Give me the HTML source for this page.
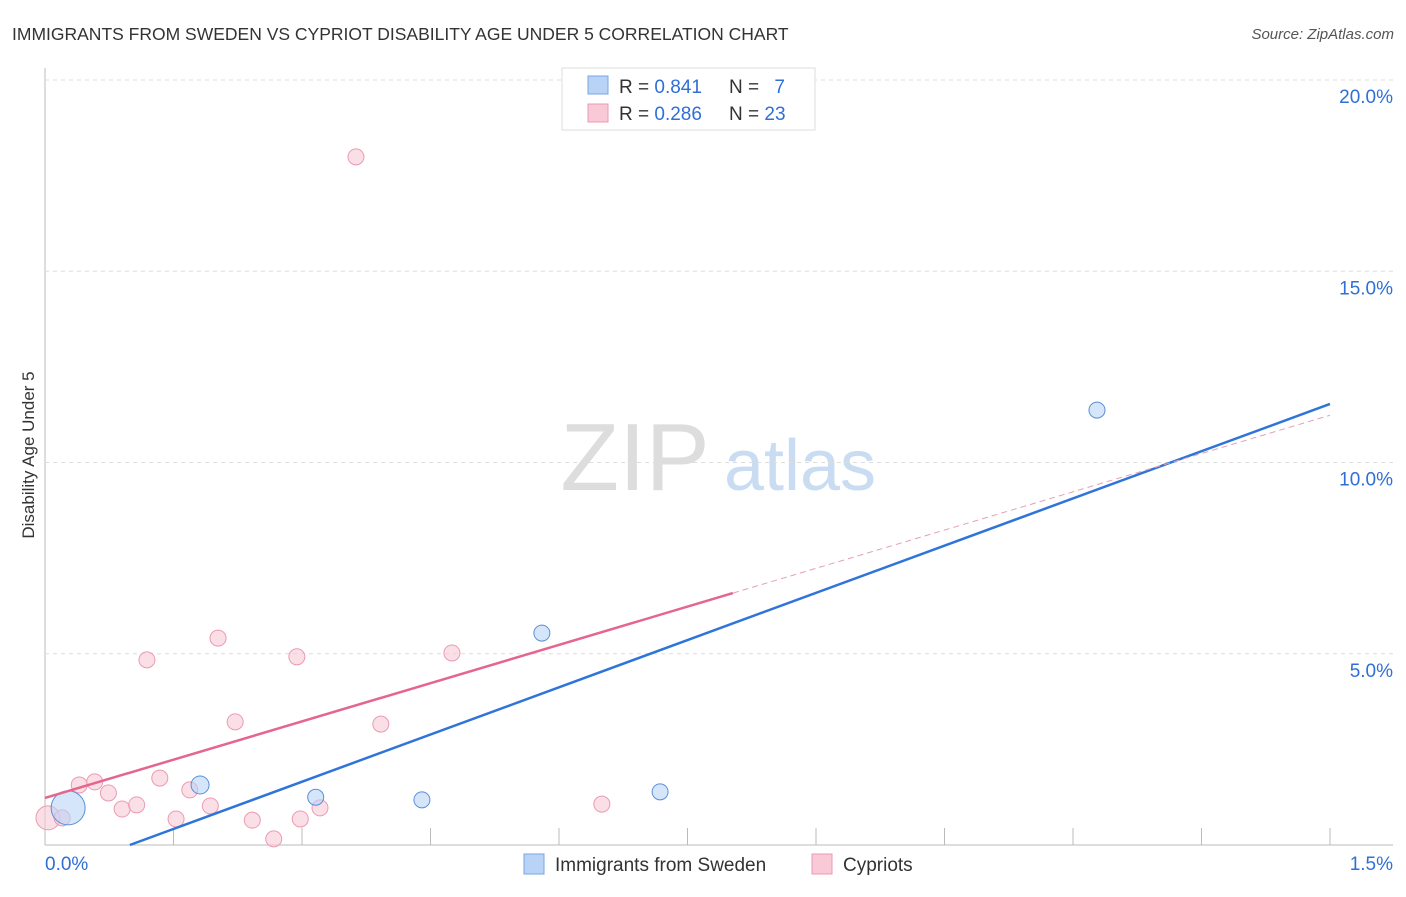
<!DOCTYPE html>
<html><head><meta charset="utf-8"><style>
body{margin:0;background:#fff;font-family:"Liberation Sans",sans-serif}
svg text{font-family:"Liberation Sans",sans-serif}
</style></head><body>
<svg id="chart" width="1406" height="892">
<text x="12" y="40" font-size="17.5" fill="#333">IMMIGRANTS FROM SWEDEN VS CYPRIOT DISABILITY AGE UNDER 5 CORRELATION CHART</text>
<text x="1394" y="39" font-size="15" fill="#555" font-style="italic" text-anchor="end">Source: ZipAtlas.com</text>
<text x="34" y="455" font-size="17" fill="#333" text-anchor="middle" transform="rotate(-90 34 455)">Disability Age Under 5</text>
<text x="635" y="490" font-size="96" fill="#ddd" font-family="Liberation Serif" text-anchor="middle">ZIP</text>
<text x="800" y="490" font-size="72" fill="#c9dcf2" text-anchor="middle">atlas</text>
<g id="grid"></g><g id="marks"></g>
<g>
<rect x="562" y="68" width="253" height="62" fill="#fff" stroke="#ddd"/>
<rect x="588" y="76" width="20" height="18" fill="#b9d3f6" stroke="#7aa6e0"/>
<rect x="588" y="104" width="20" height="18" fill="#f9c9d7" stroke="#ec9ab3"/>
<text x="619" y="93" font-size="19" fill="#333">R = <tspan fill="#2f6fd6">0.841</tspan></text>
<text x="729" y="93" font-size="19" fill="#333">N = <tspan fill="#2f6fd6" dx="10">7</tspan></text>
<text x="619" y="120" font-size="19" fill="#333">R = <tspan fill="#2f6fd6">0.286</tspan></text>
<text x="729" y="120" font-size="19" fill="#333">N = <tspan fill="#2f6fd6">23</tspan></text>
</g>
<g>
<rect x="524" y="854" width="20" height="20" fill="#b9d3f6" stroke="#7aa6e0"/>
<text x="555" y="871" font-size="19" fill="#333">Immigrants from Sweden</text>
<rect x="812" y="854" width="20" height="20" fill="#f9c9d7" stroke="#ec9ab3"/>
<text x="843" y="871" font-size="19" fill="#333">Cypriots</text>
</g>
</svg>
<script>
const blueX=[0.027,0.181,0.316,0.440,0.580,0.718,1.228];
const blueY=[0.97,1.57,1.25,1.18,5.54,1.39,11.37];
const blueR=[17,9,8,8,8,8,8];
const pinkX=[0.0035,0.020,0.040,0.058,0.074,0.090,0.107,0.119,0.134,0.153,0.169,0.193,0.202,0.222,0.242,0.267,0.294,0.298,0.321,0.363,0.392,0.475,0.650];
const pinkY=[0.71,0.71,1.57,1.65,1.36,0.94,1.05,4.84,1.75,0.68,1.44,1.02,5.41,3.22,0.65,0.16,4.92,0.68,0.97,17.99,3.16,5.02,1.07];
const blueFit=[-0.815,8.23];
const pinkFit=[1.23,6.67];
const yTicks=[5,10,15,20];
const yTickLabels=["5.0%","10.0%","15.0%","20.0%"];
const xTicks=[0.15,0.3,0.45,0.6,0.75,0.9,1.05,1.2,1.35,1.5];
const NS="http://www.w3.org/2000/svg";
const X=v=>45+v/1.5*1285, Y=v=>845-v*38.25;
function mk(p,t,a){const e=document.createElementNS(NS,t);for(const k in a)e.setAttribute(k,a[k]);p.appendChild(e);return e;}
const g=document.getElementById('grid'),m=document.getElementById('marks');
mk(g,'line',{x1:45,y1:68,x2:45,y2:845,stroke:'#bbb'});
mk(g,'line',{x1:45,y1:845,x2:1393,y2:845,stroke:'#bbb'});
yTicks.forEach((v,i)=>{
 const l=mk(g,'line',{x1:45,y1:Y(v),x2:1393,y2:Y(v),stroke:'#ddd','stroke-dasharray':'4,4'});
 
 
 const t=mk(g,'text',{x:1393,y:Y(v)+23,'font-size':19,fill:'#2f6fd6','text-anchor':'end'});t.textContent=yTickLabels[i];
 
 
});
xTicks.forEach(v=>{const l=mk(g,'line',{x1:X(v),y1:828,x2:X(v),y2:845,stroke:'#bbb'});
 
 });
const t0=mk(g,'text',{x:45,y:870,'font-size':19,fill:'#2f6fd6'});t0.textContent='0.0%';


const t1=mk(g,'text',{x:1393,y:870,'font-size':19,fill:'#2f6fd6','text-anchor':'end'});t1.textContent='1.5%';


pinkX.forEach((x,i)=>{const c=mk(m,'circle',{cx:X(x),cy:Y(pinkY[i]),r:i==0?12:8,fill:'#f9c9d7','fill-opacity':0.6,stroke:'#ec9ab3'});
 
 });
blueX.forEach((x,i)=>{const c=mk(m,'circle',{cx:X(x),cy:Y(blueY[i]),r:blueR[i],fill:'#b9d3f6','fill-opacity':0.6,stroke:'#5b8fd8'});
 
 });
const bx0=-blueFit[0]/blueFit[1];
const bl=mk(m,'line',{x1:X(bx0),y1:Y(0),x2:X(1.5),y2:Y(blueFit[0]+blueFit[1]*1.5),stroke:'#2f74d9','stroke-width':2.5});


const pl=mk(m,'line',{x1:X(0),y1:Y(pinkFit[0]),x2:X(0.803),y2:Y(pinkFit[0]+pinkFit[1]*0.803),stroke:'#e4668f','stroke-width':2.5});


const pd=mk(m,'line',{x1:X(0.803),y1:Y(pinkFit[0]+pinkFit[1]*0.803),x2:X(1.5),y2:Y(pinkFit[0]+pinkFit[1]*1.5),stroke:'#e4a0b5','stroke-width':1,'stroke-dasharray':'6,4'});


</script>
</body></html>
